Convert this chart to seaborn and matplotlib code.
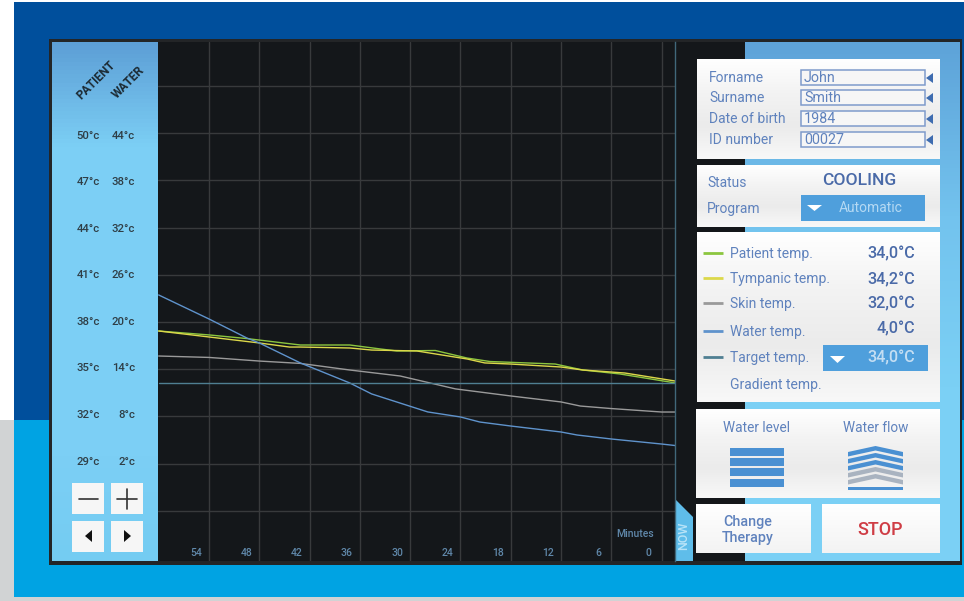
import numpy as np
import pandas as pd
import matplotlib
matplotlib.use("Agg")
import matplotlib.pyplot as plt
import seaborn as sns
from matplotlib.patches import Polygon, Rectangle
from matplotlib.transforms import ScaledTranslation

### data ###
patient_time = [60, 54, 49.5, 43.1, 37.2, 33.6, 31.6, 27, 23.2, 20.5, 12.7, 9.4, 5, -1.6]
patient_temp = [37.43, 37.18, 36.95, 36.54, 36.54, 36.29, 36.16, 36.19, 35.71, 35.49, 35.33, 34.95, 34.70, 34.13]

tympanic_time = [60, 54, 48, 44.4, 43.1, 37.2, 34.6, 29.2, 23.2, 21.1, 18, 12, 9.4, 4.4, -1.6]
tympanic_temp = [37.43, 37.05, 36.67, 36.41, 36.41, 36.35, 36.22, 36.16, 35.65, 35.40, 35.33, 35.14, 34.95, 34.76, 34.25]

skin_time = [60, 54, 48, 43.1, 37.2, 31.2, 24.6, 18, 12, 9.7, 6, 0, -1.6]
skin_temp = [35.84, 35.75, 35.52, 35.37, 34.95, 34.57, 33.75, 33.30, 32.92, 32.66, 32.50, 32.28, 32.28]

# water is read on its own scale (second column of the left panel)
water_time = [60, 54, 49.5, 48, 43.1, 37.2, 34.6, 27.9, 24, 21.7, 18, 12, 10.1, 6, 0, -1.6]
water_temp = [23.44, 20.39, 17.98, 17.34, 14.80, 12.25, 10.86, 8.57, 7.93, 7.29, 6.78, 6.02, 5.64, 5.13, 4.49, 4.30]

target_time = [60, -1.6]
target_temp = [34.1, 34.1]

minutes = [54, 48, 42, 36, 30, 24, 18, 12, 6, 0]
patient_ticks = [50, 47, 44, 41, 38, 35, 32, 29]
water_ticks = [44, 38, 32, 26, 20, 14, 8, 2]
extra_grid = [53, 26]

series_names = ["Patient temp.", "Tympanic temp.", "Skin temp.", "Water temp.", "Target temp."]
series_colors = ["#8cc63f", "#dcd84a", "#9a9a9a", "#5f93cc", "#4f7f92"]
series_readout = ["34,0°C", "34,2°C", "32,0°C", "4,0°C", "34,0°C"]
form_labels = ["Forname", "Surname", "Date of birth", "ID number"]
form_values = ["John", "Smith", "1984", "00027"]

TEXT = "#5f82bd"
VALUE = "#4a6aa8"
BUTTON = "#4f9fdc"
TICK = "#2f3e46"
MINUTE = "#6088aa"


def to_water(t):
    return 2 * np.asarray(t, dtype=float) - 56


def to_patient(w):
    return (np.asarray(w, dtype=float) + 56) / 2


rows = []
for name, t, v in zip(series_names,
                      [patient_time, tympanic_time, skin_time, water_time, target_time],
                      [patient_temp, tympanic_temp, skin_temp, to_patient(water_temp), target_temp]):
    rows.append(pd.DataFrame({"minutes": t, "temp": v, "series": name}))
df = pd.concat(rows, ignore_index=True)

sns.set_style("dark")
plt.rcParams["font.family"] = ["Roboto", "DejaVu Sans"]

fig = plt.figure(figsize=(9.64, 6.01), dpi=100)

### screen furniture, in pixel coords of the picture ###
bg = fig.add_axes([0, 0, 1, 1], zorder=-1)


def rect(x0, y0, x1, y1, color, z=1):
    bg.add_patch(Rectangle((x0, y0), x1 - x0, y1 - y0, facecolor=color, edgecolor="none", zorder=z))


def gradient(x0, y0, x1, y1, stops, z=2):
    cmap = matplotlib.colors.LinearSegmentedColormap.from_list("g", stops)
    g = np.linspace(0, 1, 128).reshape(-1, 1)
    bg.imshow(g, extent=(x0, x1, y1, y0), cmap=cmap, aspect="auto", zorder=z, vmin=0, vmax=1)


def tri(points, color, z=6):
    bg.add_patch(Polygon(points, closed=True, facecolor=color, edgecolor="none", zorder=z))


rect(0, 0, 964, 601, "#ffffff", 0)
rect(0, 420, 964, 601, "#d1d3d4", 0)
rect(14, 2, 964, 420, "#004f9c", 0)
rect(14, 420, 964, 597, "#00a3e3", 0)
rect(49, 39, 962, 565, "#232527", 1)
rect(52, 42, 960, 561, "#14171a", 1)

gradient(52, 42, 158, 561, ["#5d9fd6", "#7ccff5", "#7ccff5", "#7ccff5", "#7ccff5", "#74ccf2"])
gradient(745, 42, 960, 561, ["#5ea3d9", "#73c3ee", "#7bd0f5", "#7bd0f5"])

card_stops = ["#ffffff", "#f3f3f3", "#ebebeb", "#f8f8f8"]
gradient(697, 59, 940, 159, card_stops, 3)
gradient(697, 165, 940, 227, card_stops, 3)
gradient(697, 232, 940, 402, card_stops, 3)
gradient(696, 409, 940, 498, card_stops, 3)
gradient(696, 504, 811, 553, ["#ffffff", "#f3f3f3"], 3)
gradient(822, 504, 940, 553, ["#ffffff", "#f3f3f3"], 3)

# zoom and pan buttons
for x0, y0 in [(72, 483), (111, 483), (72, 521), (111, 521)]:
    rect(x0, y0, x0 + 32, y0 + 31, "#f6f6f6", 3)
bg.plot([79, 98], [499, 499], color="#333333", lw=1.2, zorder=5)
bg.plot([117, 137], [499, 499], color="#333333", lw=1.2, zorder=5)
bg.plot([127, 127], [489, 509], color="#333333", lw=1.2, zorder=5)
tri([(92, 530), (92, 542), (85, 536)], "#111111")
tri([(124, 530), (124, 542), (131, 536)], "#111111")

# header of the scale columns
bg.text(96, 80, "PATIENT", rotation=45, fontsize=8.6, fontweight="bold", color="#1c2a33",
        ha="center", va="center", zorder=6)
bg.text(128.5, 82, "WATER", rotation=45, fontsize=8.6, fontweight="bold", color="#1c2a33",
        ha="center", va="center", zorder=6)

# NOW tab
tri([(675, 499), (693, 517), (693, 561), (675, 561)], "#5fbdea", 4)
bg.text(684, 536, "NOW", rotation=90, fontsize=9, fontweight="medium", color="#b9e4f8",
        ha="center", va="center", zorder=6)

# patient form
for lab, val, y in zip(form_labels, form_values, [78, 98, 119, 140]):
    bg.text(709, y, lab, fontsize=10, color=TEXT, va="center", zorder=6)
    bg.add_patch(Rectangle((801, y - 8), 124, 15, facecolor="#f6f6f6", edgecolor="#7f9bcb", lw=1.1, zorder=5))
    bg.text(804, y, val, fontsize=10.3, color=TEXT, va="center", zorder=6)
    tri([(933, y - 5), (933, y + 5), (926, y)], "#3e6cb0")

# status
bg.text(707, 183, "Status", fontsize=10, color=TEXT, va="center", zorder=6)
bg.text(707, 209.5, "Program", fontsize=10, color=TEXT, va="center", zorder=6)
bg.text(859, 180.5, "COOLING", fontsize=12.6, fontweight="medium", color=VALUE, ha="center", va="center", zorder=6)
rect(801, 195, 925, 221, BUTTON, 5)
bg.text(871, 208, "Automatic", fontsize=10, color="#b4d9f3", ha="center", va="center", zorder=6)
tri([(807, 205), (822, 205), (814.5, 211)], "#ffffff")

# legend and readouts
legend_y = [253, 278, 303, 331, 357]
readout_y = [254, 279.5, 304, 329, 358]
for name, col, val, y, ry in zip(series_names, series_colors, series_readout, legend_y, readout_y):
    bg.plot([703, 723], [y, y], color=col, lw=2, zorder=6, solid_capstyle="butt")
    bg.text(730, y + 1, name, fontsize=10, color=TEXT, va="center", zorder=6)
    c = "#c4def3" if name.startswith("Target") else VALUE
    bg.text(915, ry, val, fontsize=11.6, fontweight="medium", color=c, ha="right", va="center", zorder=7)
rect(823, 345, 928, 371, BUTTON, 5)
tri([(830, 356), (845, 356), (837.5, 363)], "#ffffff")
bg.text(730, 385, "Gradient temp.", fontsize=10, color=TEXT, va="center", zorder=6)

# water level / flow
bg.text(756.5, 428, "Water level", fontsize=9.8, color=TEXT, ha="center", va="center", zorder=6)
bg.text(875.5, 428, "Water flow", fontsize=9.8, color=TEXT, ha="center", va="center", zorder=6)
for y0 in [448, 458, 468, 479]:
    rect(729.5, y0, 783.5, y0 + 8, "#4a90d2", 5)
for i, y0 in enumerate([446, 453, 460, 467, 474]):
    col = "#4a90d2" if i < 3 else "#a9b3c0"
    tri([(848, y0 + 6), (875.5, y0), (903, y0 + 6), (903, y0 + 10.5), (875.5, y0 + 4.5), (848, y0 + 10.5)], col)
rect(848, 487, 903, 490, "#4a90d2", 5)

# bottom buttons
bg.text(748, 522, "Change", fontsize=10.3, fontweight="medium", color=TEXT, ha="center", va="center", zorder=6)
bg.text(748, 538, "Therapy", fontsize=10.3, fontweight="medium", color=TEXT, ha="center", va="center", zorder=6)
bg.text(880, 530, "STOP", fontsize=13, fontweight="medium", color="#cf3d45", ha="center", va="center", zorder=6)

bg.set_xlim(0, 964)
bg.set_ylim(601, 0)
bg.axis("off")

### the chart itself ###
ax = fig.add_axes([158 / 964, 1 - 561 / 601, 517 / 964, 519 / 601], facecolor="#14171a")
sns.lineplot(data=df, x="minutes", y="temp", hue="series", hue_order=series_names,
             palette=series_colors, estimator=None, errorbar=None, legend=False,
             linewidth=1.0, ax=ax)
ax.set_xlim(60.08, -1.59)
ax.set_ylim(22.81, 55.8)
ax.set_xlabel("")
ax.set_ylabel("")

ax.set_xticks(minutes)
ax.set_xticklabels([str(m) for m in minutes], fontsize=7.5, fontweight="medium", color=MINUTE)
ax.tick_params(axis="x", length=0, pad=-9)
for lab in ax.get_xticklabels():
    lab.set_transform(lab.get_transform() + ScaledTranslation(-0.13, 0, fig.dpi_scale_trans))

ax.set_yticks(patient_ticks)
ax.set_yticks(extra_grid, minor=True)
ax.set_yticklabels([f"{t}°c" for t in patient_ticks], fontsize=8.2, fontweight="medium", color=TICK)
ax.tick_params(axis="y", which="both", length=0, pad=42)
ax.grid(True, which="both", color="#383a3c", lw=1)
ax.set_axisbelow(True)

water_axis = ax.secondary_yaxis("left", functions=(to_water, to_patient))
water_axis.set_yticks(water_ticks)
water_axis.set_yticklabels([f"{w}°c" for w in water_ticks], fontsize=8.2, fontweight="medium", color=TICK)
water_axis.tick_params(length=0, pad=16.5)
water_axis.spines["left"].set_visible(False)

# the printed scale runs a touch tighter than the grid
for labels in [ax.get_yticklabels(), water_axis.get_yticklabels()]:
    for i, lab in enumerate(labels):
        lab.set_transform(lab.get_transform() + ScaledTranslation(0, (0.65 * i - 1.5) / 100, fig.dpi_scale_trans))

for side in ["top", "left", "bottom"]:
    ax.spines[side].set_visible(False)
ax.spines["right"].set_color("#41687a")
ax.spines["right"].set_linewidth(1)

ax.text((635 - 158) / 517, (561 - 534) / 519, "Minutes", transform=ax.transAxes, fontsize=7.5,
        fontweight="medium", color=MINUTE, ha="center", va="center")

fig.savefig("out.png", dpi=100)
